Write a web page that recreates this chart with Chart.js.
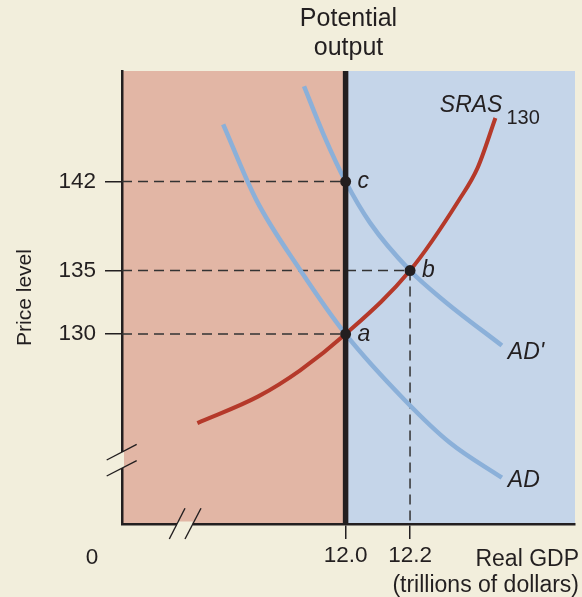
<!DOCTYPE html>
<html><head><meta charset="utf-8">
<script src="https://cdn.jsdelivr.net/npm/chart.js@4.4.1/dist/chart.umd.min.js"></script>
<style>html,body{margin:0;padding:0;background:#f2eedc;}canvas{display:block;}</style>
</head><body>
<canvas id="c" width="582" height="597"></canvas>
<script>
// ---- data ----
const srasX = [11.54, 11.729, 11.859, 12.0, 12.2, 12.352, 12.41, 12.465];
const srasY = [123.0, 125.1, 127.15, 130.0, 135.0, 140.55, 143.1, 147.0];
const adX = [11.62, 11.722, 11.859, 12.0, 12.184, 12.324, 12.485];
const adY = [146.5, 140.6, 135.05, 130.0, 124.8, 121.45, 118.7];
const adPrimeX = [11.871, 11.93, 12.0, 12.076, 12.2, 12.309, 12.485];
const adPrimeY = [149.5, 145.8, 142.0, 138.75, 135.0, 132.55, 129.1];
const eqLabels = ['a', 'b', 'c'];
const eqX = [12.0, 12.2, 12.0];
const eqY = [130, 135, 142];
const potentialOutput = 12.0;
const xTicks = [12.0, 12.2];
const yTicks = [130, 135, 142];
const originLabel = '0';
const xAxisTitle = ['Real GDP', '(trillions of dollars)'];
const yAxisTitle = 'Price level';
const chartTitle = ['Potential', 'output'];
const srasName = 'SRAS';
const srasSub = '130';
const adName = 'AD';
const adPrimeName = "AD'";

// ---- styling ----
const X_MIN = 11.306, X_MAX = 12.712, Y_MIN = 115.06, Y_MAX = 150.7;
const INK = '#231f20', BEIGE = '#f2eedc', SALMON = '#e2b6a5', BLUE_BG = '#c5d5e9';
const RED = '#b5392a', BLUE_LINE = '#8bb0d9';
const FONT = "'Liberation Sans', Arial, sans-serif";
Chart.defaults.font.family = FONT;

const pts = (xs, ys) => xs.map((x, i) => ({ x, y: ys[i] }));

const decor = {
  id: 'decor',
  beforeDraw(chart) {
    const { ctx, chartArea: ca, scales: { x } } = chart;
    ctx.save();
    ctx.fillStyle = BEIGE;
    ctx.fillRect(0, 0, chart.width, chart.height);
    const px = x.getPixelForValue(potentialOutput);
    ctx.fillStyle = SALMON;
    ctx.fillRect(ca.left, ca.top, px - ca.left, ca.bottom - ca.top);
    ctx.fillStyle = BLUE_BG;
    ctx.fillRect(px, ca.top, ca.right - px, ca.bottom - ca.top);
    ctx.restore();
  },
  afterDraw(chart) {
    const { ctx, chartArea: ca, scales: { x, y } } = chart;
    const L = ca.left, B = ca.bottom;
    ctx.save();
    // axis breaks
    ctx.fillStyle = BEIGE;
    ctx.fillRect(L - 2.5, B - 72, 4.5, 16);
    ctx.fillRect(L + 55, B - 2.5, 15.7, 5);
    ctx.strokeStyle = INK; ctx.lineWidth = 1.4;
    const seg = (a, b, c, d) => { ctx.beginPath(); ctx.moveTo(a, b); ctx.lineTo(c, d); ctx.stroke(); };
    seg(L - 15.3, B - 64, L + 14.7, B - 79.7);
    seg(L - 15.3, B - 48, L + 14.7, B - 63.3);
    seg(L + 47.3, B + 15, L + 63, B - 15.7);
    seg(L + 63, B + 15, L + 79, B - 15.7);

    ctx.fillStyle = INK;
    // origin and x-axis title
    ctx.font = `22.5px ${FONT}`;
    ctx.textAlign = 'center'; ctx.textBaseline = 'alphabetic';
    ctx.fillText(originLabel, L - 30, B + 40);
    ctx.textAlign = 'right';
    ctx.font = `23px ${FONT}`;
    ctx.fillText(xAxisTitle[0], ca.right + 4, B + 42);
    ctx.fillText(xAxisTitle[1], ca.right + 4, B + 68);

    // equilibrium labels
    ctx.font = `italic 23px ${FONT}`;
    ctx.textAlign = 'left';
    eqLabels.forEach((t, i) => {
      ctx.fillText(t, x.getPixelForValue(eqX[i]) + 12, y.getPixelForValue(eqY[i]) + 6.5);
    });
    // curve labels
    const endPx = (xs, ys) => [x.getPixelForValue(xs[xs.length - 1]), y.getPixelForValue(ys[ys.length - 1])];
    const [sx, sy] = endPx(srasX, srasY);
    ctx.textAlign = 'right';
    ctx.fillText(srasName, sx + 7, sy - 6);
    ctx.textAlign = 'left';
    ctx.font = `20px ${FONT}`;
    ctx.fillText(srasSub, sx + 11, sy + 5.5);
    ctx.font = `italic 23px ${FONT}`;
    const [apx, apy] = endPx(adPrimeX, adPrimeY);
    ctx.fillText(adPrimeName, apx + 6, apy + 13);
    const [ax, ay] = endPx(adX, adY);
    ctx.fillText(adName, ax + 6, ay + 9);
    ctx.restore();
  }
};

const guides = eqX.map((gx, i) => ({
  label: 'guide ' + eqLabels[i],
  data: [{ x: X_MIN, y: eqY[i] }, { x: gx, y: eqY[i] }, { x: gx, y: Y_MIN }],
  showLine: true, borderColor: '#333333', borderWidth: 1.5, borderDash: [10, 6],
  pointRadius: 0, tension: 0, order: 6
}));

const curve = (label, xs, ys, color, width, order) => ({
  label, data: pts(xs, ys), showLine: true, borderColor: color, borderWidth: width,
  pointRadius: 0, cubicInterpolationMode: 'monotone', order
});

new Chart(document.getElementById('c'), {
  type: 'scatter',
  data: {
    datasets: [
      { label: 'equilibria', data: pts(eqX, eqY), showLine: false, pointRadius: 5.5,
        pointBackgroundColor: INK, pointBorderColor: INK, pointBorderWidth: 0, order: 0 },
      { label: 'Potential output', data: [{ x: potentialOutput, y: Y_MIN }, { x: potentialOutput, y: Y_MAX }],
        showLine: true, borderColor: INK, borderWidth: 5.5, pointRadius: 0, tension: 0, order: 1 },
      curve('SRAS130', srasX, srasY, RED, 4, 2),
      curve('AD', adX, adY, BLUE_LINE, 4.5, 3),
      curve("AD'", adPrimeX, adPrimeY, BLUE_LINE, 4.5, 4),
      ...guides
    ]
  },
  options: {
    responsive: false, animation: false, events: [], devicePixelRatio: 1,
    layout: { padding: { left: 0, right: 7, top: 0, bottom: 0 } },
    plugins: {
      legend: { display: false }, tooltip: { enabled: false },
      title: { display: true, text: chartTitle, fullSize: false, color: INK,
        font: { size: 25, weight: 'normal', lineHeight: 1.16 }, padding: { top: 4.5, bottom: 8.5 } }
    },
    scales: {
      x: {
        type: 'linear', min: X_MIN, max: X_MAX,
        afterFit: s => { s.height = 73; },
        afterBuildTicks: s => { s.ticks = xTicks.map(v => ({ value: v })); },
        ticks: { callback: v => Number(v).toFixed(1), color: INK, font: { size: 22.5 }, padding: 3,
          maxRotation: 0, autoSkip: false },
        grid: { display: true, drawOnChartArea: false, drawTicks: true, tickLength: 15, color: INK, lineWidth: 1.5 },
        border: { display: true, color: INK, width: 2.5 }
      },
      y: {
        type: 'linear', min: Y_MIN, max: Y_MAX,
        afterFit: s => { s.width = 122; },
        afterBuildTicks: s => { s.ticks = yTicks.map(v => ({ value: v })); },
        ticks: { callback: v => String(v), color: INK, font: { size: 22.5 }, padding: 9, autoSkip: false },
        grid: { display: true, drawOnChartArea: false, drawTicks: true, tickLength: 17, color: INK, lineWidth: 1.5 },
        border: { display: true, color: INK, width: 2.5 },
        title: { display: true, text: yAxisTitle, color: INK, font: { size: 21 }, padding: { top: 13, bottom: 0 } }
      }
    }
  },
  plugins: [decor]
});
</script>
</body></html>
